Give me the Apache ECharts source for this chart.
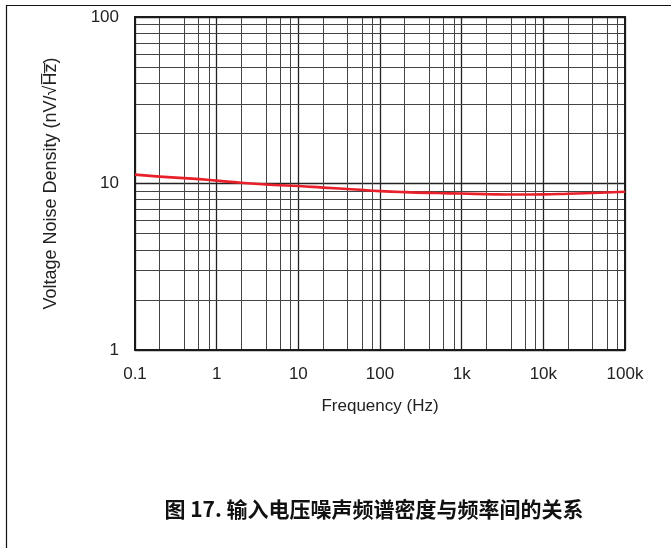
<!DOCTYPE html>
<html><head><meta charset="utf-8">
<script src="https://cdn.jsdelivr.net/npm/echarts@6/dist/echarts.min.js"></script>
<style>html,body{margin:0;padding:0;background:#fff}#c{width:671px;height:548px}</style>
</head><body><div id="c"></div>
<script>
const freqHz = [0.1,0.2,0.5,1,2,5,10,20,50,100,200,500,1000,2000,5000,10000,20000,50000,100000];
const noiseNV = [11.3,11.0,10.7,10.4,10.1,9.8,9.65,9.45,9.2,9.0,8.87,8.76,8.7,8.63,8.58,8.6,8.68,8.8,8.93];
const xTickLabels = {'0.1':'0.1','1':'1','10':'10','100':'100','1000':'1k','10000':'10k','100000':'100k'};
const yTickLabels = {'1':'1','10':'10','100':'100'};
const xMinorGrid = [];
[0.1,1,10,100,1000,10000].forEach(d=>{[2,4,6,8].forEach(k=>xMinorGrid.push(+(d*k).toPrecision(6)));});
const yMinorGrid = [];
[1,10].forEach(d=>{for(let k=2;k<=9;k++) yMinorGrid.push(d*k);});
const titleText = '图 17. 输入电压噪声频谱密度与频率间的关系';
const yName = 'Voltage Noise Density (nV/\u221AH\u0305z\u0305)';
const xName = 'Frequency (Hz)';

const chart = echarts.init(document.getElementById('c'), null, {renderer:'canvas'});
const font = 'Liberation Sans, Arial, sans-serif';
chart.setOption({
  animation:false,
  backgroundColor:'#fff',
  grid:{left:135,top:17,width:490,height:333,show:true,borderColor:'#1a1a1a',borderWidth:2,backgroundColor:'transparent',z:5},
  title:{text:titleText,left:369,top:494,textAlign:'center',textStyle:{fontFamily:'Noto Sans CJK SC, Liberation Sans, sans-serif',fontSize:21,fontWeight:'bold',color:'#111'}},
  xAxis:{type:'log',logBase:10,min:0.1,max:100000,
    name:xName,nameLocation:'middle',nameGap:48,nameTextStyle:{fontFamily:font,fontSize:17,color:'#222'},
    axisLine:{show:false},axisTick:{show:false},
    axisLabel:{fontFamily:font,fontSize:17,color:'#222',margin:16,formatter:v=>xTickLabels[String(+v.toPrecision(6))]||''},
    splitLine:{show:true,lineStyle:{color:'#222',width:1.3}}},
  yAxis:{type:'log',logBase:10,min:1,max:100,
    name:yName,nameLocation:'middle',nameGap:75,nameTextStyle:{fontFamily:font,fontSize:18,color:'#222'},
    axisLine:{show:false},axisTick:{show:false},
    axisLabel:{fontFamily:font,fontSize:17,color:'#222',margin:16,formatter:v=>yTickLabels[String(+v.toPrecision(6))]||''},
    splitLine:{show:true,lineStyle:{color:'#222',width:1.3}}},
  series:[{
    type:'line',data:freqHz.map((f,i)=>[f,noiseNV[i]]),smooth:true,showSymbol:false,z:10,
    lineStyle:{color:'#e8202a',width:2.6},
    markLine:{silent:true,symbol:'none',label:{show:false},animation:false,z:2,
      lineStyle:{color:'#444',width:1,type:'solid'},
      data:[...xMinorGrid.map(v=>({xAxis:v})),...yMinorGrid.map(v=>({yAxis:v}))]}
  }],
  graphic:[
    {type:'line',shape:{x1:6,y1:5.5,x2:671,y2:5.5},style:{stroke:'#111',lineWidth:1.2}},
    {type:'line',shape:{x1:6.5,y1:5,x2:6.5,y2:548},style:{stroke:'#111',lineWidth:1.2}}
  ]
});
</script></body></html>
